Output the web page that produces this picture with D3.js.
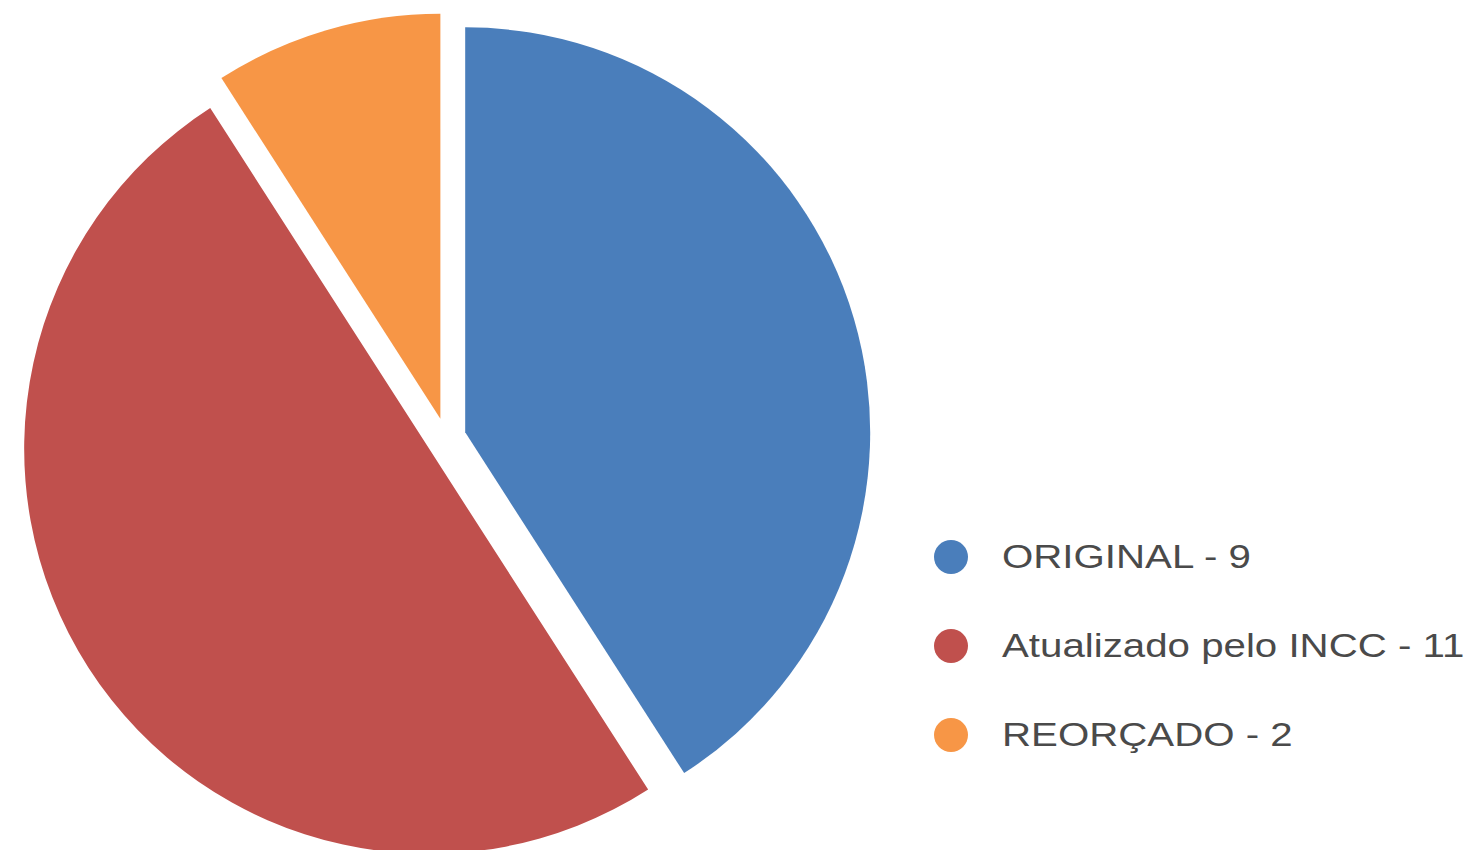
<!DOCTYPE html>
<head>
  <meta charset="utf-8">
  <title>Pie</title>
  <script src="https://d3js.org/d3.v7.min.js"></script>
  <style>
    body { margin: 0; background: #fff; }
    .legend text {
      font-family: 'Liberation Sans', Arial, sans-serif;
      font-size: 33px;
      fill: #4a4a4a;
    }
  </style>
</head>
<body>
  <script>
    var categories = ["ORIGINAL", "Atualizado pelo INCC", "REORÇADO"];
    var values = [9, 11, 2];
    var colors = ["#4a7ebb", "#c0504d", "#f79646"];

    var width = 1480, height = 850;
    var cx = 446, cy = 438, radius = 405, explode = 20;

    var svg = d3.select("body").append("svg")
      .attr("width", width)
      .attr("height", height);

    var data = categories.map((c, i) => ({name: c, value: values[i], color: colors[i]}));

    var pie = d3.pie().sort(null).value(d => d.value);
    var arc = d3.arc().innerRadius(0).outerRadius(radius);

    var g = svg.append("g").attr("transform", "translate(" + cx + "," + cy + ")");

    g.selectAll("path")
      .data(pie(data))
      .enter().append("path")
        .attr("d", arc)
        .attr("fill", d => d.data.color)
        .attr("transform", function(d) {
          var a = (d.startAngle + d.endAngle) / 2;
          return "translate(" + [Math.sin(a) * explode, -Math.cos(a) * explode] + ")";
        });

    // legend, text is a bit stretched sideways in the original
    var legend = svg.append("g").attr("class", "legend")
      .attr("transform", "translate(951,557)");

    var item = legend.selectAll("g")
      .data(data)
      .enter().append("g")
        .attr("transform", (d, i) => "translate(0," + i * 89 + ")");
    item.append("circle")
      .attr("r", 17)
      .attr("fill", d => d.color);
    item.append("text")
      .attr("transform", "translate(51,0) scale(1.22,1)")
      .attr("dy", "0.33em")
      .text(d => d.name + " - " + d.value);
  </script>
</body>
